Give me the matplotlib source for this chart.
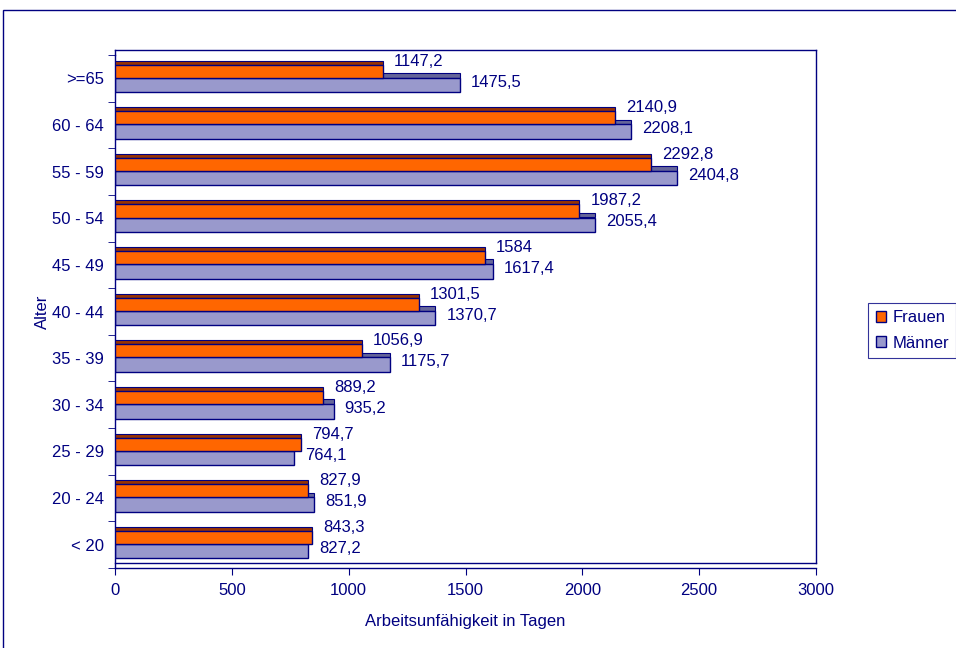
import numpy as np
import matplotlib.pyplot as plt
from matplotlib.patches import Patch, Rectangle
from matplotlib.lines import Line2D

plt.rcParams['font.family'] = ['Liberation Sans', 'DejaVu Sans']

# data, bottom to top
altersgruppen = ["< 20", "20 - 24", "25 - 29", "30 - 34", "35 - 39", "40 - 44",
                 "45 - 49", "50 - 54", "55 - 59", "60 - 64", ">=65"]
frauen = [843.3, 827.9, 794.7, 889.2, 1056.9, 1301.5, 1584, 1987.2, 2292.8, 2140.9, 1147.2]
maenner = [827.2, 851.9, 764.1, 935.2, 1175.7, 1370.7, 1617.4, 2055.4, 2404.8, 2208.1, 1475.5]
x_ticks = [0, 500, 1000, 1500, 2000, 2500, 3000]

navy = "#000080"
orange = "#FF6600"
orange_top = "#993300"
lila = "#9999CC"
lila_top = "#666699"
fs = 12

W, H = 956, 648

def fmt(v):
    s = f"{v:.1f}".rstrip("0").rstrip(".")
    return s.replace(".", ",")

def fx(px):
    return px / W

def fy(py):
    return 1 - py / H

fig = plt.figure(figsize=(W/100, H/100), dpi=100)
ax = fig.add_axes([fx(115), fy(568), fx(816) - fx(115), fy(55) - fy(568)])

y = np.arange(len(altersgruppen))
# pseudo 3d: dark top face strip behind each bar
ax.barh(y + 0.066, maenner, height=0.10, color=lila_top, edgecolor=navy, lw=0.8, zorder=1)
ax.barh(y - 0.14, maenner, height=0.31, color=lila, edgecolor=navy, lw=1.0, zorder=2)
ax.barh(y + 0.338, frauen, height=0.085, color=orange_top, edgecolor=navy, lw=0.8, zorder=3)
ax.barh(y + 0.155, frauen, height=0.28, color=orange, edgecolor=navy, lw=1.0, zorder=4)

for yi, f, m in zip(y, frauen, maenner):
    ax.annotate(fmt(f), (f, yi + 0.37), xytext=(8, 0), textcoords="offset points",
                va="center", ha="left", fontsize=fs, color=navy, zorder=5)
    ax.annotate(fmt(m), (m, yi - 0.08), xytext=(8, 0), textcoords="offset points",
                va="center", ha="left", fontsize=fs, color=navy, zorder=5)

ax.set_xlim(0, 3000)
ax.set_ylim(-0.5, len(altersgruppen) - 0.5)
ax.set_xticks(x_ticks)
ax.set_xticklabels([str(t) for t in x_ticks], fontsize=fs, color=navy)
ax.set_yticks(y)
ax.set_yticklabels(altersgruppen, fontsize=fs, color=navy)
ax.set_yticks(np.arange(-0.5, len(altersgruppen)), minor=True)
ax.tick_params(axis="y", which="major", length=0, pad=8)
ax.tick_params(axis="y", which="minor", length=5, color=navy, direction="out")
ax.tick_params(axis="x", length=5, color=navy, direction="out", pad=6)

for s in ["top", "right"]:
    ax.spines[s].set_visible(False)
for s in ["left", "bottom"]:
    ax.spines[s].set_color(navy)
    ax.spines[s].set_linewidth(1.0)

# back wall / floor edges of the 3d plot area
for xs, ys in [((115, 816), (50, 50)), ((816, 816), (50, 563)),
               ((115, 816), (563, 563)), ((115, 115), (50, 55))]:
    fig.add_artist(Line2D([fx(xs[0]), fx(xs[1])], [fy(ys[0]), fy(ys[1])],
                          color=navy, lw=1.0, transform=fig.transFigure))

ax.set_xlabel("Arbeitsunfähigkeit in Tagen", fontsize=fs, color=navy, labelpad=11)
ax.set_ylabel("Alter", fontsize=fs, color=navy)
ax.yaxis.set_label_coords((50 - 115) / 701, 0.5)

handles = [Patch(facecolor=orange, edgecolor=navy, label="Frauen"),
           Patch(facecolor=lila, edgecolor=navy, label="Männer")]
leg = fig.legend(handles=handles, loc="upper left", bbox_to_anchor=(fx(868), fy(303)),
                 frameon=True, fancybox=False, fontsize=fs, handlelength=0.65,
                 handleheight=0.65, handletextpad=0.35, borderpad=0.45, labelspacing=0.6,
                 borderaxespad=0)
leg.get_frame().set_edgecolor(navy)
leg.get_frame().set_linewidth(0.8)
for t in leg.get_texts():
    t.set_color(navy)

# chart frame
fig.patches.append(Rectangle((fx(3), -0.1), 1.2, 0.1 + fy(10), transform=fig.transFigure,
                             fill=False, edgecolor=navy, lw=1.0))

fig.savefig("out.png", dpi=100)
